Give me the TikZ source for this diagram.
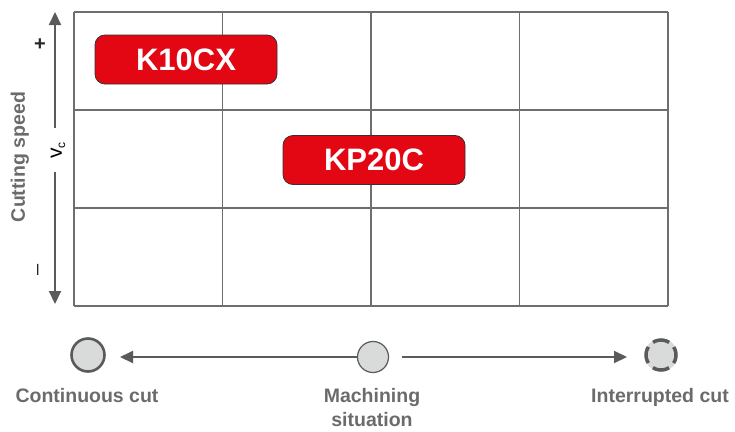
\documentclass[tikz,border=0pt]{standalone}
\usepackage{fontspec}
\setmainfont{Liberation Sans}
\usetikzlibrary{arrows.meta}
\definecolor{gridgray}{HTML}{6E6E6E}
\definecolor{txtgray}{HTML}{6B6B6B}
\definecolor{arrgray}{HTML}{5A5A5A}
\definecolor{boxred}{HTML}{E30613}
\definecolor{circfill}{HTML}{D9DBDB}
\tikzset{
  gridline/.style={draw=gridgray, line width=1.6pt},
  redbox/.style={draw=black!80, line width=0.8pt, fill=boxred, rounded corners=10pt,
    minimum width=182pt, minimum height=49pt, text=white, font=\fontsize{31}{34}\selectfont\bfseries},
  lbl/.style={text=txtgray, font=\fontsize{19.5}{24}\selectfont\bfseries, align=center, inner sep=0pt},
  axarrow/.style={draw=arrgray, line width=2pt, -{Triangle[length=13pt,width=12pt]}},
}
\begin{document}
\begin{tikzpicture}[x=1pt,y=-1pt]
\useasboundingbox (0,0) rectangle (735,431);
% grid
\foreach \x in {74,222.5,371,519.5,668} \draw[gridline] (\x,12) -- (\x,306);
\foreach \y in {12,110,208,306} \draw[gridline] (74,\y) -- (668,\y);
% boxes
\node[redbox] (k10) at (186,59.5) {K10CX};
\node[redbox] (kp20) at (374,160) {KP20C};
% vertical axis
\node[rotate=90, font=\fontsize{21}{22}\selectfont] (vc) at (58,150) {v\textsubscript{\fontsize{12}{12}\selectfont c}};
\coordinate (vtop) at (55,12);
\coordinate (vbot) at (55,304);
\coordinate (vmidt) at (55,128);
\coordinate (vmidb) at (55,172);
\draw[axarrow] (vmidt) -- (vtop);
\draw[axarrow] (vmidb) -- (vbot);
\node[font=\fontsize{20}{22}\selectfont\bfseries, text=black!85] (plus) at (40,45) {+};
\node[font=\fontsize{20}{22}\selectfont, text=black!85, rotate=90] (minus) at (40,270) {--};
\node[lbl, rotate=90] (cs) at (20,157) {Cutting speed};
% bottom circles
\node[circle, draw=arrgray, line width=2.6pt, fill=circfill, minimum size=33pt, inner sep=0pt] (c1) at (88,355) {};
\node[circle, draw=arrgray, line width=1.2pt, fill=circfill, minimum size=31pt, inner sep=0pt] (c2) at (373,357) {};
\node[circle, fill=circfill, minimum size=33pt, inner sep=0pt] (c3) at (661,355) {};
\draw[arrgray, line width=3.5pt, dash pattern=on 17pt off 6.56pt, dash phase=8.5pt] (c3.center) circle[radius=15];
\coordinate (lstart) at (357,357);
\coordinate (lend) at (120,357);
\coordinate (rstart) at (402,357);
\coordinate (rend) at (627,357);
\draw[axarrow] (lstart) -- (lend);
\draw[axarrow] (rstart) -- (rend);
% labels
\node[lbl, anchor=base] (l1) at (87,402) {Continuous cut};
\node[lbl, anchor=base] (l2) at (372,426) {Machining\\situation};
\node[lbl, anchor=base] (l3) at (660,402) {Interrupted cut};
\end{tikzpicture}
\end{document}
